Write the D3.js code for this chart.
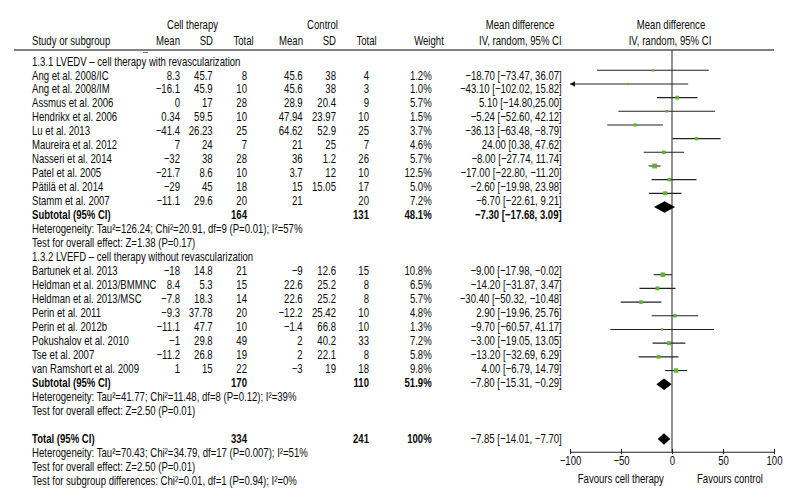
<!DOCTYPE html>
<html><head><meta charset="utf-8">
<script src="https://cdn.jsdelivr.net/npm/d3@7"></script>
<style>
html,body{margin:0;padding:0;background:#fff;}
svg{display:block;}
text{font-family:"Liberation Sans",Arial,sans-serif;font-size:12.6px;fill:#0a0a0a;}
</style></head>
<body>
<svg id="chart" width="792" height="504"></svg>
<script>
// ---------- data ----------
const group1Title = "1.3.1 LVEDV – cell therapy with revascularization";
const group2Title = "1.3.2 LVEFD – cell therapy without revascularization";
const studies = ["Ang et al. 2008/IC","Ang et al. 2008/IM","Assmus et al. 2006","Hendrikx et al. 2006","Lu et al. 2013","Maureira et al. 2012","Nasseri et al. 2014","Patel et al. 2005","Pätilä et al. 2014","Stamm et al. 2007",
  "Bartunek et al. 2013","Heldman et al. 2013/BMMNC","Heldman et al. 2013/MSC","Perin et al. 2011","Perin et al. 2012b","Pokushalov et al. 2010","Tse et al. 2007","van Ramshort et al. 2009"];
const studyGroup = [1,1,1,1,1,1,1,1,1,1,2,2,2,2,2,2,2,2];
const cellMean = [8.3,-16.1,0,0.34,-41.4,7,-32,-21.7,-29,-11.1,-18,8.4,-7.8,-9.3,-11.1,-1,-11.2,1];
const cellSD = [45.7,45.9,17,59.5,26.23,24,38,8.6,45,29.6,14.8,5.3,18.3,37.78,47.7,29.8,26.8,15];
const cellN = [8,10,28,10,25,7,28,10,18,20,21,15,14,20,10,49,19,22];
const ctrlMean = [45.6,45.6,28.9,47.94,64.62,21,36,3.7,15,21,-9,22.6,22.6,-12.2,-1.4,2,2,-3];
const ctrlSD = [38,38,20.4,23.97,52.9,25,1.2,12,15.05,null,12.6,25.2,25.2,25.42,66.8,40.2,22.1,19];
const ctrlN = [4,3,9,10,25,7,26,10,17,20,15,8,8,10,10,33,8,18];
const weights = [1.2,1.0,5.7,1.5,3.7,4.6,5.7,12.5,5.0,7.2,10.8,6.5,5.7,4.8,1.3,7.2,5.8,9.8];
const md = [-18.70,-43.10,5.10,-5.24,-36.13,24.00,-8.00,-17.00,-2.60,-6.70,-9.00,-14.20,-30.40,2.90,-9.70,-3.00,-13.20,4.00];
const ciLow = [-73.47,-102.02,-14.80,-52.60,-63.48,0.38,-27.74,-22.80,-19.98,-22.61,-17.98,-31.87,-50.32,-19.96,-60.57,-19.05,-32.69,-6.79];
const ciHigh = [36.07,15.82,25.00,42.12,-8.79,47.62,11.74,-11.20,23.98,9.21,-0.02,3.47,-10.48,25.76,41.17,13.05,6.29,14.79];
const ciLabels = ["−18.70 [−73.47, 36.07]","−43.10 [−102.02, 15.82]","5.10 [−14.80,25.00]","−5.24 [−52.60, 42.12]","−36.13 [−63.48, −8.79]","24.00 [0.38, 47.62]","−8.00 [−27.74, 11.74]","−17.00 [−22.80, −11.20]","−2.60 [−19.98, 23.98]","−6.70 [−22.61, 9.21]",
  "−9.00 [−17.98, −0.02]","−14.20 [−31.87, 3.47]","−30.40 [−50.32, −10.48]","2.90 [−19.96, 25.76]","−9.70 [−60.57, 41.17]","−3.00 [−19.05, 13.05]","−13.20 [−32.69, 6.29]","4.00 [−6.79, 14.79]"];

const summaryLabels = ["Subtotal (95% CI)","Subtotal (95% CI)","Total (95% CI)"];
const summaryCellN = [164,170,334];
const summaryCtrlN = [131,110,241];
const summaryWeight = ["48.1%","51.9%","100%"];
const summaryCI = ["−7.30 [−17.68, 3.09]","−7.80 [−15.31, −0.29]","−7.85 [−14.01, −7.70]"];
const summaryCIBold = [true,false,false];
const summaryMean = [-7.30,-7.80,-7.85];
const summaryLow = [-17.68,-15.31,-14.01];
const summaryHigh = [3.09,-0.29,-1.70];

const statLines1 = ["Heterogeneity: Tau²=126.24; Chi²=20.91, df=9 (P=0.01); I²=57%","Test for overall effect: Z=1.38 (P=0.17)"];
const statLines2 = ["Heterogeneity: Tau²=41.77; Chi²=11.48, df=8 (P=0.12); I²=39%","Test for overall effect: Z=2.50 (P=0.01)"];
const statLinesTotal = ["Heterogeneity: Tau²=70.43; Chi²=34.79, df=17 (P=0.007); I²=51%","Test for overall effect: Z=2.50 (P=0.01)","Test for subgroup differences: Chi²=0.01, df=1 (P=0.94); I²=0%"];

const axisTicks = [-100,-50,0,50,100];
const axisLabelLeft = "Favours cell therapy";
const axisLabelRight = "Favours control";

// ---------- layout ----------
const svg = d3.select("#chart");
const SX = 0.76; // horizontal condensing of text
const fmt = v => (v === null || v === undefined) ? "" : String(v).replace("-", "−");
const addText = (parent, str, xx, yy, anchor, bold) => parent.append("text")
  .attr("transform", `translate(${xx},${yy}) scale(${SX},1)`)
  .attr("dy", "0.36em").attr("text-anchor", anchor)
  .attr("font-weight", bold ? "bold" : null).text(str);

const rows = [];
rows.push({type:"title", text:group1Title});
studies.forEach((s,i)=>{ if(studyGroup[i]===1) rows.push({type:"study", i}); });
rows.push({type:"summary", k:0});
statLines1.forEach(t=>rows.push({type:"stat", text:t}));
rows.push({type:"title", text:group2Title});
studies.forEach((s,i)=>{ if(studyGroup[i]===2) rows.push({type:"study", i}); });
rows.push({type:"summary", k:1});
statLines2.forEach(t=>rows.push({type:"stat", text:t}));
rows.push({type:"blank"});
rows.push({type:"summary", k:2});
statLinesTotal.forEach(t=>rows.push({type:"stat", text:t}));
rows.forEach((r,idx)=>{ r.idx = idx; r.group = idx <= 13 ? 1 : 2; });

const yText = d3.scaleLinear().domain([0, rows.length-1]).range([61, 480]);
const yPlot1 = d3.scaleLinear().domain([1, 11]).range([70.3, 207]);
const yPlot2 = d3.scaleLinear().domain([15, 27]).range([274.7, 439]);
const yPlot = r => r.group === 1 ? yPlot1(r.idx) : yPlot2(r.idx);

const x = d3.scaleLinear().domain([-100, 100]).range([570, 774]);
const axisY = 451.7;

const col = {study:32, cMean:180, cSD:212.7, cN:247, kMean:302.7, kSD:336, kN:369, w:431.7, ci:561.7};

// header
const hdr = svg.append("g");
addText(hdr, "Cell therapy", 192.5, 24, "middle");
addText(hdr, "Control", 322.5, 24, "middle");
addText(hdr, "Mean difference", 520, 24, "middle");
addText(hdr, "Mean difference", 671, 24, "middle");
addText(hdr, "Study or subgroup", col.study, 40.7, "start");
addText(hdr, "Mean", 180, 40.7, "end");
addText(hdr, "SD", 213, 40.7, "end");
addText(hdr, "Total", 243.5, 40.7, "middle");
addText(hdr, "Mean", 303, 40.7, "end");
addText(hdr, "SD", 336, 40.7, "end");
addText(hdr, "Total", 366.5, 40.7, "middle");
addText(hdr, "Weight", 429, 40.7, "middle");
addText(hdr, "IV, random, 95% CI", 561.7, 40.7, "end");
addText(hdr, "IV, random, 95% CI", 670, 40.7, "middle");
hdr.append("line").attr("x1", 14).attr("x2", 774).attr("y1", 50).attr("y2", 50).attr("stroke", "#555").attr("stroke-width", 1.4);
hdr.append("line").attr("x1", 143).attr("x2", 148).attr("y1", 52.5).attr("y2", 52.5).attr("stroke", "#777").attr("stroke-width", 1);

// zero line
svg.append("line").attr("x1", x(0)).attr("x2", x(0)).attr("y1", 50).attr("y2", axisY).attr("stroke", "#555").attr("stroke-width", 1.3);

// table text
const tbl = svg.append("g");
const tt = (t, xx, r, anchor, bold) => addText(tbl, t, xx, yText(r.idx), anchor, bold);

rows.forEach(r=>{
  if (r.type === "title" || r.type === "stat") tt(r.text, col.study, r, "start", false);
  if (r.type === "study") {
    const i = r.i;
    tt(studies[i], col.study, r, "start");
    tt(fmt(cellMean[i]), col.cMean, r, "end");
    tt(fmt(cellSD[i]), col.cSD, r, "end");
    tt(fmt(cellN[i]), col.cN, r, "end");
    tt(fmt(ctrlMean[i]), col.kMean, r, "end");
    tt(fmt(ctrlSD[i]), col.kSD, r, "end");
    tt(fmt(ctrlN[i]), col.kN, r, "end");
    tt(weights[i].toFixed(1) + "%", col.w, r, "end");
    tt(ciLabels[i], col.ci, r, "end");
  }
  if (r.type === "summary") {
    const k = r.k;
    tt(summaryLabels[k], col.study, r, "start", true);
    tt(String(summaryCellN[k]), col.cN, r, "end", true);
    tt(String(summaryCtrlN[k]), col.kN, r, "end", true);
    tt(summaryWeight[k], col.w, r, "end", true);
    tt(summaryCI[k], col.ci, r, "end", summaryCIBold[k]);
  }
});

// forest plot
const plot = svg.append("g");
const size = d3.scaleSqrt().domain([0, 12.5]).range([1.3, 4.8]);
rows.filter(r=>r.type==="study").forEach(r=>{
  const i = r.i, yy = yPlot(r);
  const lo = Math.max(ciLow[i], -100), hi = Math.min(ciHigh[i], 100);
  plot.append("line").attr("x1", x(lo)).attr("x2", x(hi)).attr("y1", yy).attr("y2", yy)
    .attr("stroke", "#222").attr("stroke-width", 1.1);
  if (ciLow[i] < -100) {
    const ax = x(-100);
    plot.append("path").attr("d", `M${ax},${yy} L${ax+5},${yy-2.8} L${ax+5},${yy+2.8} Z`).attr("fill", "#111");
  }
  const s = size(weights[i]);
  plot.append("rect").attr("x", x(md[i]) - s/2).attr("y", yy - s/2).attr("width", s).attr("height", s).attr("fill", "#66b032");
});
rows.filter(r=>r.type==="summary").forEach(r=>{
  const k = r.k, yy = yPlot(r), h = 5.8;
  plot.append("path").attr("d", `M${x(summaryLow[k])},${yy} L${x(summaryMean[k])},${yy-h} L${x(summaryHigh[k])},${yy} L${x(summaryMean[k])},${yy+h} Z`).attr("fill", "#000");
});

// axis
const axis = d3.axisBottom(x).tickValues(axisTicks).tickSizeInner(2.5).tickSizeOuter(0).tickPadding(4)
  .tickFormat(d => fmt(d));
const ag = svg.append("g").attr("transform", `translate(0,${axisY})`).call(axis);
ag.attr("font-family", null).attr("font-size", null);
ag.select(".domain").attr("stroke", "#222").attr("stroke-width", 1.1);
ag.selectAll(".tick line").attr("y1", -2.8).attr("y2", 2.5).attr("stroke", "#222").attr("stroke-width", 1.1);
ag.selectAll(".tick text").attr("fill", "#0a0a0a").attr("y", null).attr("dy", "0.36em")
  .attr("transform", `translate(0,9) scale(${SX},1)`);

addText(svg, axisLabelLeft, 620.8, 478, "middle");
addText(svg, axisLabelRight, 730, 478, "middle");
</script>
</body></html>
